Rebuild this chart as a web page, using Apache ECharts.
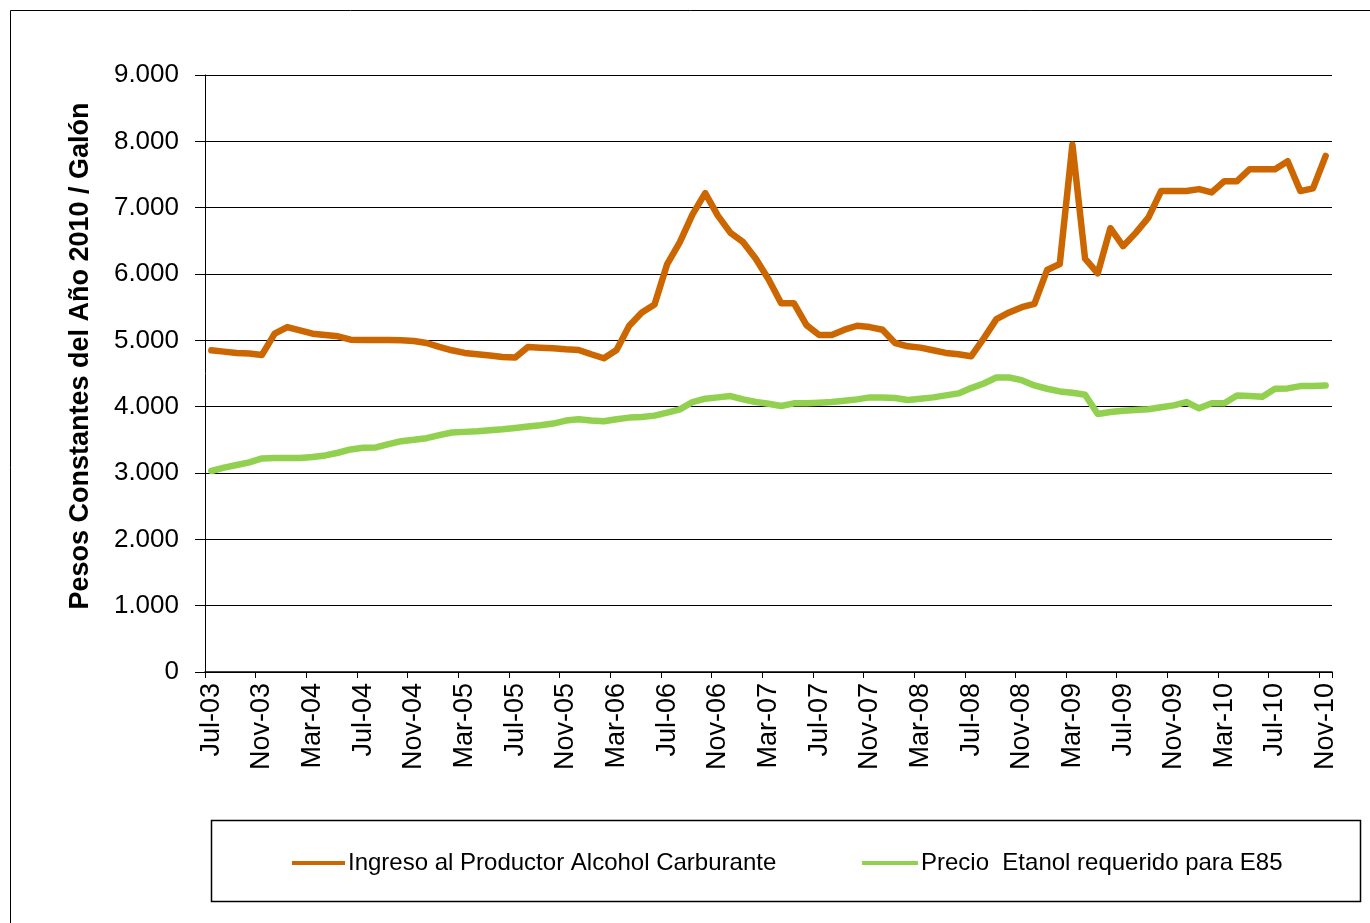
<!DOCTYPE html>
<html>
<head>
<meta charset="utf-8">
<script src="https://cdn.jsdelivr.net/npm/echarts@6/dist/echarts.min.js"></script>
<style>
html,body{margin:0;padding:0;background:#fff;}
#chart{width:1370px;height:923px;}
</style>
</head>
<body>
<div id="chart"></div>
<script>
const monthNames = ['Jan','Feb','Mar','Apr','May','Jun','Jul','Aug','Sep','Oct','Nov','Dec'];
const categories = [];
for (let y = 2003; y <= 2010; y++) {
  for (let m = 0; m < 12; m++) {
    if (y === 2003 && m < 6) continue;
    if (y === 2010 && m > 10) continue;
    categories.push(monthNames[m] + '-' + String(y).slice(2));
  }
}

const ingresoProductor = [
  4850, 4830, 4810, 4800, 4780, 5100, 5200, 5150, 5100, 5080,
  5060, 5010, 5005, 5005, 5005, 5000, 4990, 4960, 4900, 4850,
  4810, 4790, 4770, 4750, 4740, 4900, 4890, 4880, 4865, 4855,
  4790, 4730, 4855, 5220, 5420, 5540, 6150, 6480, 6900, 7220,
  6880, 6620, 6480, 6230, 5920, 5560, 5560, 5230, 5080, 5080,
  5160, 5220, 5200, 5160, 4960, 4910, 4890, 4850, 4810, 4790,
  4760, 5030, 5320, 5420, 5500, 5550, 6060, 6150, 7950, 6230,
  6010, 6690, 6420, 6620, 6850, 7250, 7250, 7250, 7280, 7230,
  7400, 7400, 7580, 7580, 7580, 7700, 7250, 7290, 7780
];

const precioEtanolE85 = [
  3030, 3080, 3120, 3160, 3220, 3225, 3225, 3225, 3240, 3265,
  3305, 3355, 3380, 3385, 3435, 3480, 3500, 3525, 3570, 3610,
  3620, 3630, 3645, 3660, 3680, 3700, 3720, 3745, 3790, 3810,
  3790, 3780, 3810, 3835, 3845, 3865, 3910, 3960, 4070, 4120,
  4140, 4160, 4110, 4070, 4045, 4010, 4050, 4050, 4060, 4070,
  4090, 4110, 4140, 4140, 4130, 4100, 4120, 4140, 4170, 4200,
  4280, 4350, 4440, 4440, 4400, 4320, 4270, 4230, 4210, 4180,
  3890, 3920, 3940, 3950, 3960, 3990, 4020, 4070, 3975, 4050,
  4050, 4170, 4160, 4150, 4270, 4275, 4310, 4310, 4320
];

const seriesNames = ['Ingreso al Productor Alcohol Carburante', 'Precio  Etanol requerido para E85'];
const yAxisTitle = 'Pesos Constantes del Año 2010 / Galón';

const chart = echarts.init(document.getElementById('chart'), null, {renderer: 'canvas'});
const FONT = 'Liberation Sans, Arial, sans-serif';

chart.setOption({
  backgroundColor: '#ffffff',
  animation: false,
  textStyle: {fontFamily: FONT, color: '#000'},
  grid: {left: 205, right: 38, top: 75, bottom: 251, containLabel: false},
  graphic: [
    {type: 'rect', shape: {x: 10.5, y: 10.5, width: 1400, height: 1000},
     style: {fill: 'none', stroke: '#000', lineWidth: 1}, silent: true},
    {type: 'rect', shape: {x: 211.5, y: 820.5, width: 1149, height: 81},
     style: {fill: 'none', stroke: '#000', lineWidth: 1.5}, silent: true},
    {type: 'text', x: 81, y: 356, rotation: Math.PI / 2, silent: true,
     style: {text: yAxisTitle, fill: '#000', font: 'bold 27px ' + FONT,
             textAlign: 'center', textVerticalAlign: 'middle'}}
  ],
  legend: [
    {data: [seriesNames[0]], left: 292, top: 851, padding: 0, icon: 'rect', itemWidth: 53, itemHeight: 4, itemGap: 0,
     textStyle: {fontFamily: FONT, fontSize: 24, color: '#000', padding: [0, 0, 0, -2]}},
    {data: [seriesNames[1]], left: 862, top: 851, padding: 0, icon: 'rect', itemWidth: 56, itemHeight: 4, itemGap: 0,
     textStyle: {fontFamily: FONT, fontSize: 24, color: '#000', padding: [0, 0, 0, -2]}}
  ],
  xAxis: {
    type: 'category',
    data: categories,
    boundaryGap: true,
    axisLine: {lineStyle: {color: '#000', width: 1.5}},
    axisTick: {show: true, interval: 3, length: 6, lineStyle: {color: '#000'}},
    axisLabel: {interval: 3, rotate: 90, fontSize: 27, color: '#000', margin: 11, fontFamily: FONT}
  },
  yAxis: {
    type: 'value',
    min: 0, max: 9000, interval: 1000,
    axisLine: {show: true, lineStyle: {color: '#000', width: 1}},
    axisTick: {show: true, length: 10, lineStyle: {color: '#000'}},
    axisLabel: {fontSize: 26, color: '#000', margin: 26, fontFamily: FONT,
      formatter: function (v) { return v === 0 ? '0' : String(v).replace(/\B(?=(\d{3})+(?!\d))/g, '.'); }},
    splitLine: {show: true, lineStyle: {color: '#000', width: 1.2}}
  },
  series: [
    {name: seriesNames[0], type: 'line', data: ingresoProductor, showSymbol: false, symbol: 'none',
     lineStyle: {color: '#CC6600', width: 6.5, join: 'round', cap: 'round'}, itemStyle: {color: '#CC6600'}, z: 3},
    {name: seriesNames[1], type: 'line', data: precioEtanolE85, showSymbol: false, symbol: 'none',
     lineStyle: {color: '#92D050', width: 6.5, join: 'round', cap: 'round'}, itemStyle: {color: '#92D050'}, z: 2}
  ]
});
</script>
</body>
</html>
